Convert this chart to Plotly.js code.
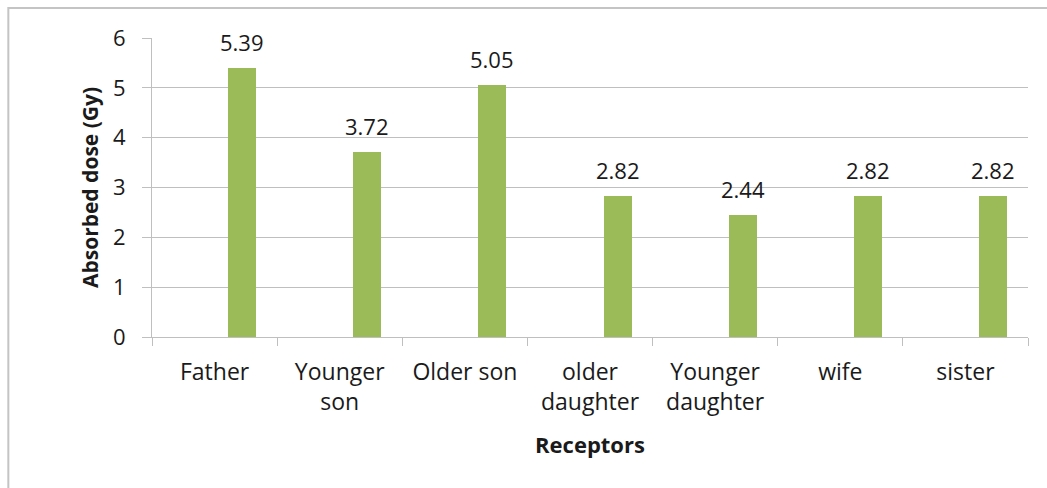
<!DOCTYPE html>
<html>
<head>
<meta charset="utf-8">
<script src="https://cdn.plot.ly/plotly-3.0.1.min.js"></script>
<style>
  html, body { margin: 0; padding: 0; background: #ffffff; }
  #chart { width: 1047px; height: 488px; }
</style>
</head>
<body>
<div id="chart"></div>
<script>
// Absorbed dose per receptor
const receptors = ['Father', 'Younger<br>son', 'Older son', 'older<br>daughter', 'Younger<br>daughter', 'wife', 'sister'];
const doseGy = [5.39, 3.72, 5.05, 2.82, 2.44, 2.82, 2.82];
const yTicks = [0, 1, 2, 3, 4, 5, 6];

const barOffset = 0.108;
const barWidth = 0.224;
const gray = '#bfbfbf';
const textColor = '#1a1a1a';
const fontFamily = '"Open Sans", "Noto Sans", sans-serif';

const trace = {
  type: 'bar',
  x: receptors,
  y: doseGy,
  offset: barOffset,
  width: barWidth,
  marker: { color: '#9bbb59' },
  hoverinfo: 'x+y'
};

// value labels above each bar
const labels = doseGy.map((v, i) => ({
  x: i + barOffset + barWidth / 2,
  y: v,
  xref: 'x',
  yref: 'y',
  text: v.toFixed(2),
  showarrow: false,
  yanchor: 'middle',
  yshift: 26,
  font: { family: fontFamily, size: 22, color: textColor }
}));

const layout = {
  width: 1047,
  height: 488,
  margin: { l: 152, r: 19, t: 38, b: 151 },
  paper_bgcolor: '#ffffff',
  plot_bgcolor: '#ffffff',
  showlegend: false,
  bargap: 0,
  font: { family: fontFamily, size: 22, color: textColor },
  xaxis: {
    type: 'category',
    showgrid: false,
    showline: true,
    linecolor: gray,
    linewidth: 1,
    ticks: 'outside',
    tickson: 'boundaries',
    ticklen: 8,
    tickcolor: gray,
    ticklabelstandoff: 14,
    tickfont: { family: fontFamily, size: 23, color: textColor },
    title: {
      text: '<b>Receptors</b>',
      font: { family: fontFamily, size: 22, color: textColor },
      standoff: 22
    }
  },
  yaxis: {
    range: [0, 6],
    tickvals: yTicks,
    ticktext: yTicks.map(String),
    showgrid: true,
    gridcolor: gray,
    gridwidth: 1,
    zeroline: false,
    showline: true,
    linecolor: gray,
    linewidth: 1,
    ticks: 'outside',
    ticklen: 9,
    tickcolor: gray,
    ticklabelstandoff: 12,
    tickfont: { family: fontFamily, size: 22, color: textColor },
    title: {
      text: '<b>Absorbed dose (Gy)</b>',
      font: { family: fontFamily, size: 21, color: textColor },
      standoff: 8
    }
  },
  annotations: labels,
  shapes: [{
    type: 'rect',
    xref: 'paper',
    yref: 'paper',
    x0: -0.164,
    x1: 1.3,
    y0: -0.8,
    y1: 1.1,
    line: { color: '#c4c4c4', width: 2 },
    fillcolor: 'rgba(0,0,0,0)',
    layer: 'below'
  }]
};

Plotly.newPlot('chart', [trace], layout, { displayModeBar: false, staticPlot: true });
</script>
</body>
</html>
